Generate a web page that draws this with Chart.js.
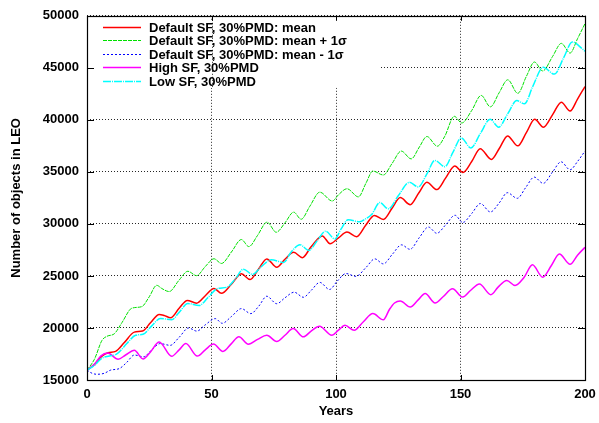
<!DOCTYPE html>
<html><head><meta charset="utf-8">
<script src="https://cdn.jsdelivr.net/npm/chart.js@4/dist/chart.umd.min.js"></script>
<style>html,body{margin:0;padding:0;background:#fff}canvas{display:block}</style>
</head><body>
<canvas id="c" width="599" height="423"></canvas>
<script>
const xTicks = [0, 50, 100, 150, 200];
const yTicks = [15000, 20000, 25000, 30000, 35000, 40000, 45000, 50000];
const seriesLabels = ["Default SF, 30%PMD: mean", "Default SF, 30%PMD: mean + 1\u03c3", "Default SF, 30%PMD: mean - 1\u03c3", "High SF, 30%PMD", "Low SF, 30%PMD"];
const xTitle = "Years";
const yTitle = "Number of objects in LEO";

const redYears = [0,3,6,8.5,11.5,15,19,22.3,25.5,29,31,33.6,37,40.3,44,47.5,51,54,58,62,65.5,69,72.2,76.2,79.5,83,86.5,90,94.5,97.6,101,104.4,108.3,112,115.4,119,122.5,125.8,129.8,133.3,136.5,140.5,144,147.7,151,154.5,157.9,162.4,165.7,168.9,173,176.5,179.8,183.3,187,190.5,194,197,200];
const redValues = [15950,16500,17300,17620,17750,18600,19600,19700,20500,21300,21200,20980,21900,22650,22380,23100,23800,23330,24200,25200,24660,25700,26640,25840,26600,27270,26760,27800,28850,28100,28650,29220,28770,29900,30820,30430,31500,32530,31850,33000,34000,33300,34400,35560,34950,36000,37230,36200,37300,38460,37500,38800,40050,39300,40500,41700,40850,42000,43200];

const greenYears = [0,3,6,8,11,14,18,22,25,28,30,33,37,40.5,44,47.5,51,54,58,62,65,68.5,72.3,76,79.5,83,86,89.5,93.5,98.5,101,104.4,109,112,114.8,119,122.5,126.2,130.2,133.5,136.5,140.7,143.7,147.5,150.5,154.5,158.3,162,165.5,169,173,176.5,179.7,183,187,190.5,194,197,200];
const greenValues = [15950,17000,18800,19200,19450,20500,21900,22050,23000,24100,23800,23500,24600,25450,25030,25900,26650,26200,27300,28500,27820,28900,30170,29200,30100,31130,30450,31700,33050,32200,32800,33380,32600,33900,35080,34700,35800,37000,36250,37400,38400,37470,38430,40340,39700,40900,42350,41250,42600,43850,42550,44200,45560,44700,46100,47350,46420,47800,49250];

const blueYears = [0,2,4,7,9.5,13,16,19,22.7,26,29.4,33.4,37,40.8,44.1,47.5,51.5,54.3,58,62,65.8,69,72.2,76.2,79.5,83.2,86.9,90,93.5,97.4,100.5,104,108,112,115.6,119,122.7,126.3,129.7,133.5,137.1,140.5,144,147.8,150.9,154.5,158,162,165.5,168.8,172.8,176.2,179.6,183.2,187,190.4,194,197,200];
const blueValues = [15950,15650,15550,15650,15950,16100,16700,17400,17230,17900,18500,18330,19100,20000,19700,20300,20900,20450,21100,21860,21380,22100,23050,22330,22900,23440,22950,23600,24380,23700,24500,25230,24960,25800,26640,26160,27100,27990,27560,28700,29700,29100,29900,30830,30140,31000,31960,31150,32000,33000,32460,33500,34500,33900,35000,35970,35200,36000,37000];

const magentaYears = [0,3,5.5,8.3,12.5,15.5,19,22.5,25.5,29,34,37,39.7,44.3,47.5,50.8,54.6,58,61,64.8,68.5,72.2,76.2,79.5,82.8,86.9,90,93.4,98.3,101,103.6,107.3,111,114.8,119,121.5,123.5,125.8,129.8,133,135.8,139.8,143,146.8,150.9,154,157.6,162.2,165,168.6,171.9,175.5,178.9,183,186.5,189.7,194,197,200];
const magentaValues = [15950,16500,17300,17600,17000,17400,17850,17020,17700,18650,17280,17900,18500,17300,17900,18450,17750,18500,19150,18440,18900,19300,18700,19300,19950,19150,19700,20160,19300,19800,20250,19780,20600,21380,20780,21800,22400,22600,22010,22700,23320,22400,23000,23770,22970,23600,24230,23200,23900,24560,24080,24850,26070,24880,26000,27110,26120,27000,27750];

const cyanYears = [0,3,6,9,12,16,19.5,22.5,26,29.5,34,37,40.5,45,48.5,52.5,56,59.5,62.8,66.5,70,74,79,82,85.5,89,92.5,95.8,99.6,102,104.9,109.5,112,114.3,117.6,121,125,129.5,133,136.5,139.7,143.7,147,150.3,154.2,158,161.9,165.3,169,172.6,175.7,179,183.2,187.7,191.5,194.9,199.5,200];
const cyanValues = [15950,16400,17100,17300,17500,18500,19300,19400,20200,20900,20800,21500,22350,22150,22900,23800,23900,24700,25650,25150,25900,26550,26300,27300,28000,27450,28400,29300,28550,29500,30400,30200,30500,30900,32050,31450,32700,34000,33550,34800,36100,35500,36900,38270,37300,38700,40050,39300,40600,41850,41540,43200,45050,44400,46000,47480,46700,46600];

function pts(xs, ys) { return xs.map((x, i) => ({x: x, y: ys[i]})); }

const FONT = {family: "'Liberation Sans', Arial, Helvetica, sans-serif", size: 13, weight: 'bold'};
const FONTSTR = "bold 13px 'Liberation Sans', Arial, Helvetica, sans-serif";

const boxPlugin = {
  id: 'boxPlugin',
  beforeDatasetsDraw(chart) {
    const {ctx, chartArea: a, scales} = chart;
    ctx.save();
    const keyRight = 381, keyBottom = a.top + 72;
    ctx.fillStyle = '#fff';
    ctx.fillRect(a.left + 1, a.top + 4, keyRight - a.left - 1, keyBottom - a.top - 4);
    const x50 = Math.round(scales.x.getPixelForValue(50)) + 0.5;
    ctx.strokeStyle = 'rgba(0,0,0,0.85)';
    ctx.lineWidth = 1;
    ctx.setLineDash([1, 2]);
    ctx.beginPath(); ctx.moveTo(x50, a.top + 4); ctx.lineTo(x50, keyBottom); ctx.stroke();
    ctx.setLineDash([]);
    ctx.strokeStyle = '#000';
    ctx.beginPath();
    yTicks.forEach(v => {
      const y = Math.round(scales.y.getPixelForValue(v)) + 0.5;
      ctx.moveTo(a.left, y); ctx.lineTo(a.left + 7, y);
      ctx.moveTo(a.right, y); ctx.lineTo(a.right - 7, y);
    });
    xTicks.forEach(v => {
      const x = Math.round(scales.x.getPixelForValue(v)) + 0.5;
      ctx.moveTo(x, a.bottom); ctx.lineTo(x, a.bottom - 5);
      ctx.moveTo(x, a.top); ctx.lineTo(x, a.top + 5);
    });
    ctx.stroke();
    ctx.restore();
  },
  afterDatasetsDraw(chart) {
    const {ctx, chartArea: a} = chart;
    ctx.save();
    ctx.strokeStyle = '#000';
    ctx.lineWidth = 1.2;
    ctx.strokeRect(Math.round(a.left) + 0.5, Math.round(a.top) + 0.5, Math.round(a.right - a.left), Math.round(a.bottom - a.top));
    ctx.font = FONTSTR;
    ctx.textBaseline = 'middle';
    ctx.textAlign = 'left';
    chart.data.datasets.forEach((ds, i) => {
      const y = Math.round(a.top + 11 + i * 13.5) + 0.5;
      ctx.strokeStyle = ds.borderColor;
      ctx.lineWidth = ds.borderWidth;
      ctx.setLineDash(ds.borderDash || []);
      ctx.beginPath(); ctx.moveTo(a.left + 16, y); ctx.lineTo(a.left + 54, y); ctx.stroke();
      ctx.setLineDash([]);
      ctx.fillStyle = '#000';
      ctx.fillText(ds.label, a.left + 62, y + 1);
    });
    ctx.restore();
  }
};

new Chart(document.getElementById('c'), {
  type: 'line',
  data: {
    datasets: [
      {label: seriesLabels[0], data: pts(redYears, redValues), borderColor: '#ff0000', borderWidth: 1.5, order: 5},
      {label: seriesLabels[1], data: pts(greenYears, greenValues), borderColor: '#00e000', borderWidth: 1, borderDash: [4, 1], order: 4},
      {label: seriesLabels[2], data: pts(blueYears, blueValues), borderColor: '#0000ff', borderWidth: 1, borderDash: [2, 2], order: 3},
      {label: seriesLabels[3], data: pts(magentaYears, magentaValues), borderColor: '#ff00ff', borderWidth: 1.5, order: 2},
      {label: seriesLabels[4], data: pts(cyanYears, cyanValues), borderColor: '#00ffff', borderWidth: 1.5, borderDash: [8, 1, 1, 1], order: 1}
    ]
  },
  options: {
    responsive: false,
    animation: false,
    devicePixelRatio: 1,
    layout: {padding: {top: 13, right: 14, left: 0, bottom: 0}},
    elements: {point: {radius: 0}, line: {cubicInterpolationMode: 'monotone', fill: false}},
    plugins: {legend: {display: false}, tooltip: {enabled: false}},
    scales: {
      x: {
        type: 'linear', min: 0, max: 200,
        afterBuildTicks: s => { s.ticks = xTicks.map(v => ({value: v})); },
        afterFit: s => { s.height = 43; s.paddingRight = 0; s.paddingLeft = 0; },
        ticks: {font: FONT, color: '#000', padding: 7, maxRotation: 0, callback: v => String(v)},
        grid: {color: 'rgba(0,0,0,0.85)', lineWidth: 1, drawTicks: false},
        border: {display: false, dash: [1, 2]},
        title: {display: true, text: xTitle, font: FONT, color: '#000', padding: {top: 0, bottom: 4}}
      },
      y: {
        type: 'linear', min: 15000, max: 50000,
        afterBuildTicks: s => { s.ticks = yTicks.map(v => ({value: v})); },
        afterFit: s => { s.width = 87; },
        ticks: {font: FONT, color: '#000', padding: 8, callback: v => String(v)},
        grid: {color: 'rgba(0,0,0,0.85)', lineWidth: 1, drawTicks: false},
        border: {display: false, dash: [1, 2]},
        title: {display: true, text: yTitle, font: FONT, color: '#000', padding: {top: 9, bottom: 0}}
      }
    }
  },
  plugins: [boxPlugin]
});
</script>
</body></html>
